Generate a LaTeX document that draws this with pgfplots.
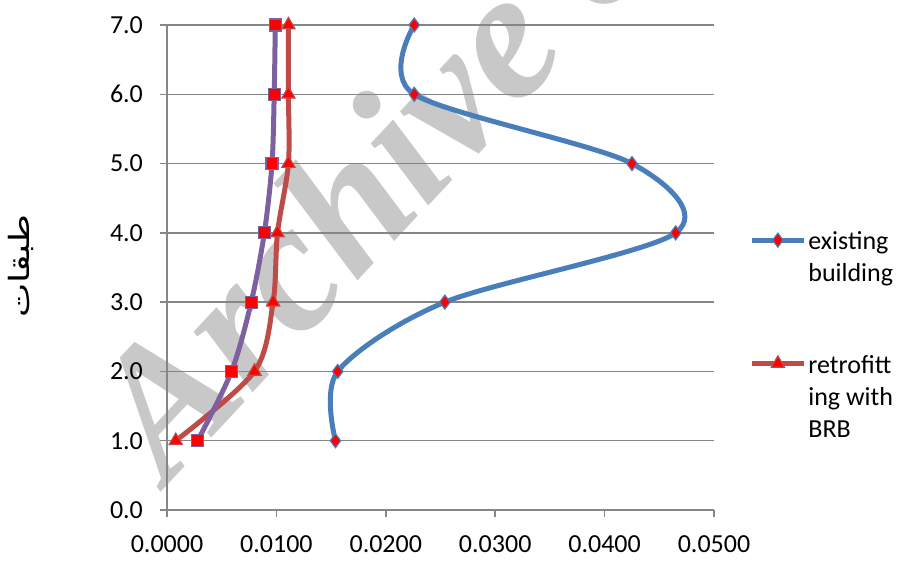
\documentclass[border=0pt]{standalone}
\usepackage{pgfplots}
\pgfplotsset{compat=1.18}
\usepackage{fontspec}
\setmainfont{Carlito}
\newfontfamily\arabicfont[Script=Arabic, FakeStretch=1.3]{DejaVu Sans}
\newfontfamily\wmfont{Liberation Serif}
\TeXXeTstate=1
\definecolor{exblue}{HTML}{4A7EBB}
\definecolor{brbred}{HTML}{BE4B48}
\definecolor{purp}{HTML}{7D60A0}
\definecolor{gridgray}{HTML}{868686}
\definecolor{wm}{HTML}{C8C8C8}
\begin{document}
\begin{tikzpicture}[x=1pt,y=1pt]
\useasboundingbox (-83.5,-26.5) rectangle (369.5,255);
\begin{scope}
\clip (-83.5,-26.5) rectangle (369.5,255);
\node[anchor=base west, rotate=47, text=wm, inner sep=0pt, font=\wmfont\bfseries\itshape\fontsize{92}{92}\selectfont] at (0,12) {Archive of SID};
\end{scope}
\begin{axis}[
  at={(0,0)}, anchor=south west,
  scale only axis, width=273.5pt, height=242.5pt,
  xmin=0, xmax=0.05, ymin=0, ymax=7,
  xtick={0,0.01,0.02,0.03,0.04,0.05},
  ytick={0,1,2,3,4,5,6,7},
  axis x line=bottom, axis y line=left,
  axis line style={gridgray, line width=0.75pt, -},
  tick style={gridgray, line width=0.75pt},
  tick align=outside, major tick length=3.5pt,
  ymajorgrids, grid style={gridgray, line width=0.75pt},
  xticklabel style={/pgf/number format/.cd, fixed, fixed zerofill, precision=4, /tikz/.cd, yshift=-6pt},
  yticklabel style={/pgf/number format/.cd, fixed, fixed zerofill, precision=1, /tikz/.cd, xshift=-5pt},
  scaled x ticks=false,
  /pgf/number format/assume math mode=true,
  tick label style={font=\fontsize{13}{15}\selectfont},
  ylabel={\arabicfont\beginR طبقات\endR},
  ylabel style={at={(axis description cs:-0.267,0.503)}, anchor=center, font=\fontsize{14}{16}\selectfont},
  legend style={at={(axis description cs:1.053,0.60)}, anchor=north west, draw=none, fill=none,
     font=\fontsize{13}{16}\selectfont, row sep=45pt, cells={anchor=west}, nodes={inner xsep=1pt}},
  legend image code/.code={\draw[mark repeat=2, mark phase=2] plot coordinates {(0pt,0pt) (13pt,0pt) (26pt,0pt)};},
  every axis plot/.append style={line width=2.5pt, smooth},
]
\addplot[exblue, mark=diamond*, mark size=3.5pt, mark options={fill=red, draw=exblue, line width=0.6pt}] coordinates {
 (0.0154,1) (0.0156,2) (0.0254,3) (0.0465,4) (0.0425,5) (0.0226,6) (0.0226,7)};
\addlegendentry{\begin{tabular}[t]{@{}l@{}}existing\\building\end{tabular}}
\addplot[brbred, mark=triangle*, mark size=3.8pt, mark options={fill=red, draw=brbred, line width=0.6pt}] coordinates {
 (0.0008,1) (0.0080,2) (0.0097,3) (0.0101,4) (0.0111,5) (0.0111,6) (0.0111,7)};
\addlegendentry{\begin{tabular}[t]{@{}l@{}}retrofitt\\ing with\\BRB\end{tabular}}
\addplot[purp, mark=square*, mark size=3pt, mark options={fill=red, draw=purp, line width=0.6pt}, forget plot] coordinates {
 (0.0028,1) (0.0059,2) (0.0077,3) (0.0089,4) (0.0096,5) (0.0098,6) (0.0099,7)};
\end{axis}
\end{tikzpicture}
\end{document}
